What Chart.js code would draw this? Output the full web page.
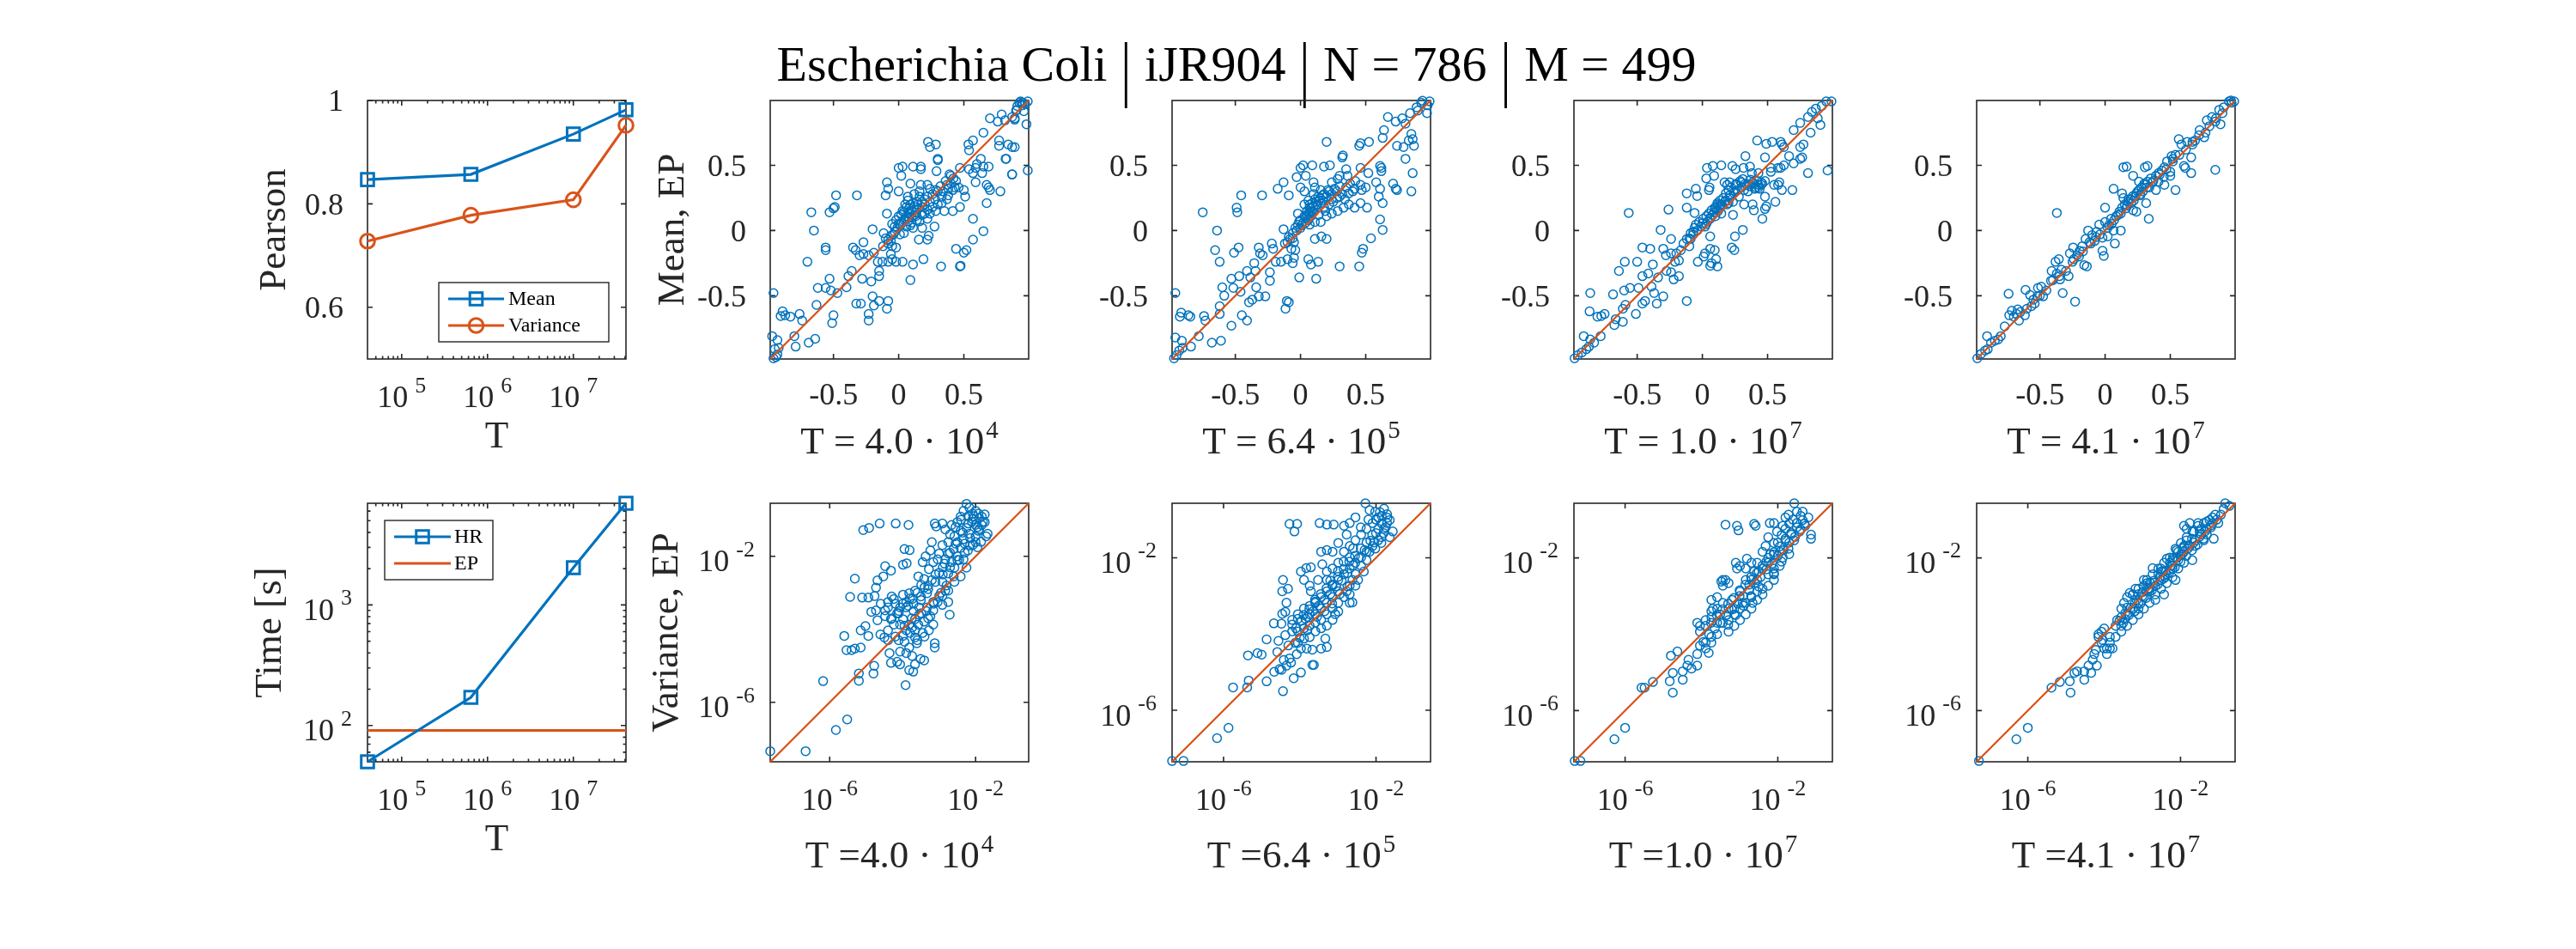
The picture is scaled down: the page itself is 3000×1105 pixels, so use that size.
<!DOCTYPE html>
<html>
<head>
<meta charset="utf-8">
<script src="https://cdn.jsdelivr.net/npm/chart.js@4.4.1/dist/chart.umd.min.js"></script>
<style>
html,body{margin:0;padding:0;background:#fff;}
#fig{position:relative;width:3000px;height:1105px;background:#fff;overflow:hidden;}
#fig canvas{position:absolute;}
#title{position:absolute;left:0;top:46px;width:2880px;text-align:center;font-family:'Liberation Serif','Times New Roman',serif;font-size:58px;line-height:58px;white-space:nowrap;color:#000;}
#title .bar{display:inline-block;margin:0 16px;transform:scaleY(1.45) translateY(4px);}
</style>
</head>
<body>
<div id="fig">
<div id="title"><span>Escherichia Coli</span><span class="bar">|</span><span>iJR904</span><span class="bar">|</span><span>N = 786</span><span class="bar">|</span><span>M = 499</span></div>
</div>
<script>
// ---------------- DATA ----------------
const tValues = [4.0e4, 6.4e5, 1.0e7, 4.1e7];
const pearsonMean = [0.847, 0.857, 0.935, 0.982];
const pearsonVariance = [0.728, 0.778, 0.808, 0.952];
const timeHR = [50, 171, 2036, 6970];
const timeEP = [91, 91, 91, 91];

const tTickValues = [1e5, 1e6, 1e7];
const tTickExponents = ['5', '6', '7'];
const pearsonTickValues = [0.6, 0.8, 1];
const pearsonTickLabels = ['0.6', '0.8', '1'];
const timeTickValues = [1e2, 1e3];
const timeTickExponents = ['2', '3'];
const meanTickValues = [-0.5, 0, 0.5];
const meanTickLabels = ['-0.5', '0', '0.5'];
const varTickValues = [1e-6, 1e-2];
const varTickExponents = ['-6', '-2'];
const runMantissas = ['4.0', '6.4', '1.0', '4.1'];
const runExponents = ['4', '5', '7', '7'];

// axis limits of the scatter panels
const meanLimits = [[-0.985, 0.997], [-0.985, 0.997], [-0.985, 0.997], [-0.985, 0.997]];
const varLimitsLog10 = [[-7.63, -0.545], [-7.35, -0.57], [-7.34, -0.57], [-7.34, -0.57]];

// Mean: [HR, EP] pairs, one list per T
const meanS1 = [
[-0.96,-0.98],[-0.94,-0.97],[-0.93,-0.95],[-0.97,-0.81],[-0.93,-0.84],[-0.95,-0.91],[-0.92,-0.90],[-0.96,-0.48],
[-0.89,-0.62],[-0.905,-0.655],[-0.87,-0.65],[-0.83,-0.66],[-0.76,-0.64],[-0.74,-0.69],
[-0.80,-0.81],[-0.79,-0.89],[-0.69,-0.86],[-0.64,-0.83],
[-0.70,-0.24],[-0.67,0.14],[-0.65,0.0],[-0.56,-0.13],[-0.56,-0.15],
[-0.53,0.14],[-0.50,0.17],[-0.49,0.18],[-0.48,0.27],
[-0.62,-0.44],[-0.56,-0.44],[-0.52,-0.46],[-0.53,-0.37],[-0.47,-0.48],[-0.50,-0.65],[-0.51,-0.71],[-0.63,-0.57],
[-0.385,-0.35],[-0.36,-0.31],[-0.40,-0.435],[-0.32,0.27],
[-0.35,-0.13],[-0.33,-0.15],[-0.30,-0.19],[-0.27,-0.18],[-0.23,-0.19],[-0.19,-0.17],[-0.27,-0.09],[-0.20,0.01],
[-0.325,-0.56],[-0.29,-0.56],[-0.20,-0.505],[-0.19,-0.575],[-0.15,-0.54],[-0.09,-0.60],[-0.08,-0.54],[-0.23,-0.64],[-0.23,-0.69],
[-0.28,-0.37],[-0.21,-0.39],[-0.15,-0.35],[-0.15,-0.31],
[-0.16,-0.24],[-0.125,-0.24],[-0.08,-0.24],[-0.05,-0.22],[-0.02,-0.24],[0.03,-0.24],[-0.06,-0.18],[-0.05,-0.12],[-0.02,-0.13],
[-0.115,-0.02],[-0.08,-0.07],[-0.04,-0.03],
[-0.09,0.13],[-0.10,0.27],[-0.08,0.32],[-0.09,0.37],[0.0,0.30],[0.0,0.48],[0.03,0.49],[0.02,0.42],[0.09,0.36],[0.11,0.49],[0.17,0.49],[0.17,0.47],[0.225,0.68],[0.285,0.66],[0.24,0.64],[0.29,0.455],[0.30,0.55],[0.30,0.54],
[-0.06,-0.04],[-0.03,-0.01],[-0.01,0.02],[0.015,0.045],[0.04,0.08],[0.06,0.11],[0.08,0.13],[0.10,0.15],[0.12,0.18],[0.145,0.20],[0.18,0.22],[0.20,0.24],[0.03,0.15],[0.05,0.20],[0.07,0.23],[0.09,0.20],[0.13,0.11],[0.16,0.07],[0.20,0.13],[0.09,0.04],[0.11,0.02],[0.06,0.03],[0.0,0.11],[0.04,-0.02],
[0.02,0.06],[0.05,0.09],[0.08,0.17],[0.11,0.21],[0.14,0.16],[0.07,0.07],[0.1,0.1],[0.13,0.14],[-0.03,0.03],[0.01,-0.03],
[-0.05,0.05],[-0.02,0.08],[0.0,0.05],[0.02,0.12],[0.04,0.14],[0.06,0.18],[0.08,0.1],[0.1,0.06],[0.12,0.12],[0.14,0.22],[0.16,0.26],[0.18,0.18],[0.2,0.2],[0.22,0.26],[0.24,0.22],[0.26,0.28],[0.28,0.24],[0.3,0.3],[0.32,0.34],[0.34,0.3],[0.36,0.38],[0.38,0.32],[0.4,0.36],[0.42,0.4],[0.44,0.38],[0.3,0.2],[0.26,0.18],[0.22,0.16],[0.18,0.12],[0.14,0.08],[-0.08,-0.1],[-0.1,-0.06],[-0.12,-0.12],[-0.06,-0.08],[0.33,0.21],[0.38,0.27],[0.43,0.33],[0.12,0.28],[0.16,0.3],[0.07,0.26],
[0.17,0.35],[0.22,0.35],[0.24,0.32],[0.285,0.31],[0.33,0.26],[0.37,0.24],[0.40,0.42],[0.39,0.43],[0.37,0.35],[0.415,0.31],[0.46,0.33],[0.50,0.31],[0.51,0.26],[0.47,0.18],[0.415,0.15],[0.35,0.15],[0.285,0.15],[0.24,0.13],[0.22,0.09],[0.275,0.03],[0.18,0.02],[0.155,-0.07],[0.22,-0.07],[0.23,-0.04],
[0.09,-0.38],[0.11,-0.26],[0.19,-0.22],[0.325,-0.275],[0.47,-0.275],[0.475,-0.27],
[0.44,-0.14],[0.50,-0.17],[0.52,-0.15],[0.57,-0.07],[0.65,-0.005],[0.57,0.09],
[0.47,0.48],[0.54,0.47],[0.57,0.44],[0.59,0.48],[0.59,0.37],[0.64,0.44],[0.69,0.49],[0.65,0.49],[0.60,0.51],[0.63,0.55],
[0.54,0.615],[0.535,0.66],[0.57,0.69],[0.65,0.75],[0.70,0.86],[0.76,0.835],[0.815,0.845],[0.79,0.89],[0.77,0.69],[0.77,0.65],[0.84,0.66],[0.87,0.64],[0.89,0.64],[0.82,0.55],[0.87,0.43],[0.78,0.30],[0.69,0.33],[0.675,0.21],[0.70,0.31],[0.675,0.35],
[0.90,0.92],[0.91,0.955],[0.925,0.98],[0.89,0.86],[0.87,0.87],[0.935,0.99],[0.98,0.815],[0.99,0.46],[0.95,0.98],[0.96,0.915],[0.905,0.925],[0.89,0.85],[0.95,0.96],[0.87,0.43],[0.825,0.55],[0.99,0.99],[0.97,0.97]
];
const meanS2 = [
[-0.97,-0.98],[-0.95,-0.955],[-0.93,-0.92],[-0.905,-0.90],[-0.96,-0.82],[-0.91,-0.845],[-0.84,-0.89],[-0.96,-0.48],[-0.915,-0.63],[-0.925,-0.66],[-0.86,-0.65],[-0.845,-0.66],[-0.74,-0.655],[-0.73,-0.69],[-0.78,-0.81],[-0.68,-0.86],[-0.61,-0.845],[-0.53,-0.73],[-0.45,-0.65],[-0.41,-0.69],[-0.395,-0.55],[-0.37,-0.53],[-0.32,-0.505],[-0.27,-0.505],
[-0.585,-0.50],[-0.60,-0.435],[-0.62,-0.58],[-0.62,-0.64],[-0.515,-0.44],[-0.46,-0.47],[-0.53,-0.37],[-0.47,-0.35],[-0.41,-0.31],[-0.385,-0.36],[-0.34,-0.435],[-0.345,-0.31],[-0.355,-0.25],
[-0.655,-0.15],[-0.62,-0.24],[-0.64,0.0],[-0.75,0.14],[-0.49,0.175],[-0.485,0.14],[-0.455,0.27],[-0.295,0.27],[-0.51,-0.17],[-0.475,-0.13],[-0.32,-0.13],[-0.31,-0.175],[-0.29,-0.19],[-0.235,-0.32],[-0.235,-0.385],[-0.22,-0.10],[-0.21,-0.14],[-0.19,-0.24],[-0.15,-0.24],[-0.10,-0.22],[-0.06,-0.25],[-0.05,-0.21],
[-0.105,-0.54],[-0.115,-0.60],[-0.09,-0.55],[-0.01,-0.36],[0.12,-0.37],[0.06,-0.22],[0.08,-0.26],[0.135,-0.24],[0.30,-0.275],[0.45,-0.275],[0.48,-0.14],[0.47,-0.17],[0.54,-0.06],[0.61,0.085],[0.63,0.005],[0.11,-0.065],[0.16,-0.045],[0.20,-0.065],
[-0.13,0.01],[-0.175,0.32],[-0.13,0.37],[-0.09,0.27],[-0.03,0.41],[0.0,0.48],[0.02,0.50],[0.04,0.42],[0.09,0.50],[0.0,0.33],[0.03,0.30],[0.10,0.37],[0.18,0.49],[0.225,0.50],[0.20,0.68],[0.32,0.56],[0.325,0.575],[0.30,0.42],[0.35,0.47],[0.36,0.42],[0.285,0.395],[0.24,0.37],[0.21,0.31],[0.155,0.31],[0.11,0.33],
[-0.06,-0.02],[-0.04,0.02],[-0.02,0.045],[0.0,0.08],[0.03,0.11],[0.05,0.15],[0.07,0.175],[0.09,0.21],[0.11,0.24],[0.135,0.26],[0.155,0.21],[0.03,0.20],[0.06,0.23],[-0.02,0.13],[0.08,0.11],[0.11,0.065],[0.07,0.045],[-0.08,-0.065],[-0.05,-0.09],[-0.10,-0.09],[-0.07,-0.14],[-0.04,-0.15],[0.19,0.15],[0.22,0.20],[0.24,0.24],[0.20,0.11],[0.155,0.065],[0.24,0.13],
[0.01,0.04],[0.04,0.06],[0.06,0.13],[0.09,0.15],[0.12,0.19],[0.14,0.23],[0.17,0.27],[0.1,0.28],[0.07,0.2],[-0.01,0.07],
[-0.12,-0.1],[-0.09,-0.05],[-0.06,-0.06],[-0.03,0.0],[0.0,0.02],[0.02,0.06],[0.04,0.1],[0.05,0.12],[0.07,0.13],[0.08,0.17],[0.1,0.19],[0.12,0.22],[0.13,0.2],[0.15,0.25],[0.17,0.23],[0.18,0.28],[0.2,0.26],[0.22,0.3],[0.24,0.28],[0.26,0.32],[0.28,0.3],[0.3,0.34],[0.32,0.28],[0.35,0.33],[0.38,0.36],[0.4,0.3],[0.42,0.38],[0.25,0.22],[0.28,0.25],[0.3,0.26],[0.34,0.24],[0.14,0.12],[0.18,0.18],[0.1,0.14],[0.06,0.08],
[0.285,0.15],[0.33,0.175],[0.37,0.20],[0.415,0.175],[0.46,0.21],[0.51,0.175],[0.37,0.285],[0.415,0.32],[0.47,0.31],[0.46,0.35],[0.50,0.33],[0.58,0.37],[0.61,0.32],[0.60,0.26],[0.63,0.21],[0.71,0.36],[0.73,0.32],[0.74,0.31],[0.85,0.30],[0.86,0.44],[0.805,0.55],[0.61,0.495],[0.62,0.455],[0.62,0.48],[0.52,0.44],[0.46,0.48],[0.525,0.68],[0.46,0.67],[0.45,0.65],[0.64,0.77],[0.63,0.71],[0.67,0.87],[0.73,0.835],[0.78,0.86],[0.805,0.82],[0.84,0.90],[0.85,0.74],[0.86,0.70],[0.83,0.69],[0.79,0.64],[0.87,0.65],[0.74,0.65],[0.90,0.92],[0.925,0.98],[0.89,0.945],[0.935,0.995],[0.97,0.90],[0.975,0.96],[0.99,0.99]
];
const meanS3 = [
[-0.98,-0.98],[-0.955,-0.955],[-0.925,-0.935],[-0.89,-0.91],[-0.87,-0.89],[-0.91,-0.81],[-0.86,-0.835],[-0.83,-0.86],[-0.78,-0.81],[-0.86,-0.48],[-0.865,-0.62],[-0.805,-0.66],[-0.775,-0.655],[-0.75,-0.64],[-0.685,-0.49],[-0.665,-0.68],[-0.675,-0.725],[-0.61,-0.70],[-0.61,-0.60],[-0.59,-0.57],[-0.60,-0.46],[-0.555,-0.44],[-0.51,-0.64],[-0.49,-0.44],[-0.46,-0.56],[-0.44,-0.54],[-0.37,-0.48],[-0.35,-0.56],[-0.30,-0.505],[-0.39,-0.43],[-0.34,-0.36],[-0.46,-0.35],[-0.415,-0.33],[-0.38,-0.26],
[-0.64,-0.31],[-0.595,-0.24],[-0.50,-0.24],[-0.46,-0.13],[-0.40,-0.14],[-0.30,-0.14],[-0.28,-0.19],[-0.24,-0.175],[-0.275,-0.31],[-0.24,-0.32],[-0.22,-0.375],[-0.18,-0.35],[-0.21,-0.24],[-0.18,-0.23],[-0.12,-0.54],[-0.32,0.005],[-0.24,-0.065],[-0.565,0.135],[-0.26,0.16],[-0.12,0.175],[-0.06,0.135],[-0.12,0.285],[-0.05,0.32],[-0.04,0.265],[0.05,0.31],[0.055,0.33],[0.03,0.40],[0.035,0.48],[0.08,0.495],[0.145,0.50],[0.09,0.42],[0.23,0.495],[0.255,0.47],[0.315,0.48],[0.33,0.57],[0.365,0.49],[0.42,0.69],[0.48,0.56],[0.49,0.665],[0.535,0.68],[0.60,0.68],[0.61,0.66],[0.60,0.48],[0.625,0.50],[0.59,0.37],[0.61,0.31],[0.69,0.31],[0.56,0.22],[0.48,0.165],[0.46,0.09],[0.395,0.155],[0.385,0.20],[0.32,0.20],[0.235,0.12],[0.31,0.005],[0.25,-0.045],[0.225,-0.13],[0.245,-0.15],
[0.06,-0.14],[0.095,-0.15],[0.105,-0.22],[0.07,-0.25],[0.06,-0.27],[0.115,-0.275],[0.02,-0.175],[-0.035,-0.24],[0.01,-0.20],[0.06,-0.045],[-0.06,0.02],[-0.09,-0.02],[-0.12,-0.065],[-0.145,-0.10],[-0.10,-0.12],[-0.165,-0.15],[-0.20,-0.175],
[-0.025,0.065],[0.005,0.09],[0.03,0.11],[0.05,0.13],[0.07,0.155],[0.095,0.175],[0.115,0.21],[0.135,0.23],[0.16,0.25],[0.18,0.285],[0.20,0.31],[0.22,0.33],[0.19,0.35],[0.17,0.37],[0.21,0.37],[0.255,0.35],[0.30,0.37],[0.34,0.35],[0.385,0.37],[0.43,0.35],[0.45,0.37],[0.41,0.33],[0.32,0.31],[0.28,0.26],[0.145,0.13],[0.10,0.11],[0.135,0.175],[0.19,0.20],[0.235,0.22],[-0.05,0.045],[-0.09,-0.065],[-0.07,-0.01],[0.0,0.055],
[0.02,0.03],[0.04,0.07],[0.08,0.12],[0.11,0.16],[0.15,0.2],[0.17,0.22],[0.21,0.27],[0.25,0.3],[0.12,0.2],[0.06,0.09],
[-0.1,-0.06],[-0.07,-0.03],[-0.04,0.0],[-0.01,0.03],[0.03,0.05],[0.06,0.1],[0.09,0.14],[0.12,0.15],[0.15,0.19],[0.18,0.23],[0.21,0.25],[0.24,0.29],[0.27,0.31],[0.3,0.33],[0.33,0.36],[0.36,0.34],[0.39,0.36],[0.42,0.38],[0.45,0.35],[0.48,0.38],[0.35,0.3],[0.4,0.32],[0.26,0.36],[0.29,0.38],[0.37,0.39],[0.44,0.32],[0.14,0.2],[0.1,0.17],[0.2,0.21],
[0.665,0.57],[0.70,0.515],[0.75,0.55],[0.765,0.56],[0.81,0.44],[0.70,0.77],[0.75,0.825],[0.775,0.66],[0.75,0.64],[0.83,0.75],[0.81,0.87],[0.84,0.91],[0.885,0.86],[0.905,0.81],[0.87,0.935],[0.915,0.955],[0.95,0.99],[0.96,0.46],[0.625,0.64],[0.43,0.33],[0.55,0.35],[0.58,0.35],[0.48,0.26],[0.49,0.185],[0.31,0.395],[0.38,0.44],[0.43,0.44],[0.46,0.36],[0.525,0.45],[0.58,0.48],[0.525,0.48],[0.99,0.99]
];
const meanS4 = [
[-0.98,-0.98],[-0.95,-0.945],[-0.92,-0.92],[-0.90,-0.91],[-0.905,-0.81],[-0.875,-0.86],[-0.845,-0.845],[-0.82,-0.835],[-0.80,-0.81],[-0.77,-0.735],[-0.74,-0.485],[-0.735,-0.65],[-0.715,-0.615],[-0.70,-0.66],[-0.68,-0.64],[-0.67,-0.605],[-0.65,-0.625],[-0.66,-0.69],[-0.615,-0.65],[-0.61,-0.455],[-0.575,-0.495],[-0.565,-0.58],[-0.54,-0.56],[-0.52,-0.505],[-0.515,-0.44],[-0.49,-0.43],[-0.475,-0.505],[-0.415,-0.385],[-0.41,-0.31],[-0.38,-0.24],[-0.355,-0.22],[-0.37,-0.33],[-0.345,-0.375],[-0.325,-0.48],[-0.335,-0.30],[-0.28,-0.35],[-0.23,-0.545],[-0.37,0.135],
[-0.27,-0.175],[-0.245,-0.13],[-0.24,-0.22],[-0.215,-0.19],[-0.195,-0.155],[-0.175,-0.12],[-0.16,-0.265],[-0.14,-0.275],[-0.15,-0.065],[-0.13,0.0],[-0.12,-0.09],[-0.10,-0.035],[-0.065,-0.01],[-0.02,-0.155],[-0.01,-0.195],[-0.02,-0.055],[0.02,-0.045],[0.065,0.0],[0.075,-0.10],[0.12,0.0],[0.0,0.175],
[-0.045,0.045],[0.0,0.065],[0.045,0.09],[0.085,0.11],[0.11,0.145],[0.13,0.175],[0.15,0.20],[0.175,0.22],[0.195,0.24],[0.215,0.265],[0.24,0.285],[0.26,0.31],[0.28,0.33],[0.305,0.35],[0.325,0.375],[0.065,0.32],[0.13,0.285],[0.14,0.25],[0.215,0.155],[0.24,0.145],[0.315,0.21],[0.335,0.09],[0.215,0.42],[0.305,0.485],[0.325,0.495],[0.14,0.485],[0.165,0.49],[0.26,0.375],
[-0.08,-0.08],[-0.04,-0.03],[0.02,0.02],[0.05,0.05],[0.1,0.12],[0.16,0.17],[0.2,0.21],[0.23,0.26],[0.27,0.28],[0.29,0.3],[0.34,0.33],[0.36,0.37],
[-0.6,-0.6],[-0.55,-0.53],[-0.5,-0.5],[-0.45,-0.46],[-0.4,-0.38],[-0.35,-0.35],[-0.3,-0.31],[-0.25,-0.24],[-0.2,-0.2],[-0.17,-0.16],[-0.11,-0.1],[-0.07,-0.05],[0.03,0.04],[0.07,0.08],[0.12,0.13],[0.17,0.19],[0.22,0.23],[0.27,0.27],[0.32,0.33],[0.37,0.38],[0.42,0.43],[0.47,0.47],[0.52,0.53],[0.57,0.58],[0.62,0.62],[0.67,0.66],[0.72,0.73],[0.8,0.8],[0.85,0.86],[0.9,0.9],[0.3,0.36],[0.35,0.4],[0.25,0.3],[0.18,0.24],[0.45,0.41],[0.5,0.45],
[0.39,0.42],[0.41,0.44],[0.435,0.46],[0.455,0.485],[0.41,0.375],[0.455,0.35],[0.39,0.31],[0.50,0.42],[0.54,0.31],[0.475,0.53],[0.52,0.55],[0.54,0.58],[0.605,0.495],[0.615,0.48],[0.66,0.44],[0.66,0.56],[0.585,0.66],[0.63,0.68],[0.67,0.68],[0.69,0.69],[0.725,0.77],[0.76,0.715],[0.77,0.75],[0.78,0.845],[0.82,0.87],[0.845,0.835],[0.885,0.815],[0.875,0.925],[0.91,0.945],[0.95,0.99],[0.965,0.997],[0.845,0.465],[0.565,0.70],[0.51,0.57],[0.99,0.99],[0.97,0.98]
];

// Variance: [log10 HR, log10 EP] pairs, one list per T
const varS1Log10 = [
[-7.63,-7.34],[-6.66,-7.34],[-5.83,-6.76],[-5.52,-6.47],[-6.18,-5.42],[-5.20,-5.21],[-5.20,-5.41],[-4.80,-5.21],[-4.78,-5.0],
[-5.60,-4.18],[-5.54,-4.57],[-5.40,-4.57],[-5.31,-4.53],[-5.15,-4.50],[-5.15,-4.03],[-5.02,-3.91],[-4.94,-4.18],[-4.69,-3.75],[-4.50,-4.22],[-4.36,-4.65],[-4.32,-4.92],[-4.15,-4.89],[-3.92,-5.53],[-3.82,-5.12],[-3.71,-5.16],[-3.51,-4.81],[-3.41,-4.85],[-4.11,-4.30],[-3.95,-4.34],[-3.82,-4.50],[-3.61,-4.38],[-3.12,-4.38],[-3.12,-4.50],[-3.66,-4.22],
[-5.44,-3.11],[-5.31,-2.61],[-5.11,-3.13],[-4.94,-3.13],[-4.77,-3.09],[-4.69,-2.66],[-4.73,-2.86],[-4.53,-2.55],[-4.48,-2.27],[-4.32,-2.39],
[-5.08,-1.28],[-4.92,-1.22],[-4.63,-1.10],[-4.19,-1.10],[-3.84,-1.14],[-3.95,-1.80],[-3.81,-1.83],[-3.99,-2.23],[-3.89,-2.19],
[-4.86,-3.52],[-4.73,-3.48],[-4.48,-3.64],[-4.48,-3.48],[-4.40,-3.25],[-4.24,-3.17],[-4.07,-3.40],[-3.90,-3.25],[-3.74,-3.17],[-3.66,-2.94],[-3.49,-2.78],[-3.57,-2.55],[-3.41,-2.62],[-3.28,-2.35],[-3.16,-2.16],[-3.04,-2.08],[-3.24,-1.84],[-3.20,-1.61],[-3.12,-1.10],[-3.08,-1.18],[-2.91,-1.10],[-2.83,-1.26],[-2.66,-1.14],[-2.50,-1.06],[-2.33,-0.75],[-2.25,-0.56],[-2.17,-0.67],[-2.08,-0.83],[-2.0,-0.75],[-1.92,-0.83],[-1.83,-0.91],[-1.75,-1.06],[-1.67,-1.38],[-1.71,-1.45],[-2.0,-1.61],[-2.17,-1.38],[-2.33,-1.53],[-2.41,-1.77],[-2.50,-2.0],[-2.66,-2.16],[-2.58,-2.31],[-2.75,-2.47],[-2.91,-2.70],[-2.83,-2.94],[-3.0,-3.09],[-2.75,-3.25],[-2.71,-3.60],[-2.91,-3.33],[-3.16,-3.25],[-3.33,-3.40],[-3.49,-3.56],[-3.66,-3.72],[-3.82,-3.87],[-3.99,-3.72],[-4.15,-3.56],[-4.32,-3.72],[-4.07,-3.87],[-3.90,-4.03],[-3.74,-3.95],[-3.57,-3.87],[-3.41,-3.79],[-3.24,-3.64],[-3.16,-3.48],[-3.04,-3.25],[-2.91,-3.09],[-2.75,-2.94],[-2.58,-2.70],[-2.41,-2.55],[-2.25,-2.31],[-2.33,-2.08],[-2.21,-1.84],[-2.08,-1.69],[-1.92,-1.30],[-2.25,-1.22],[-2.41,-1.30],[-2.58,-1.45],[-2.75,-1.61],[-2.91,-1.69],[-3.0,-1.92],[-2.83,-2.08],[-2.75,-1.92],[-2.50,-1.61],[-2.08,-0.98],[-2.41,-0.91],[-2.0,-1.14],[-1.83,-1.14],[-3.45,-2.16],[-3.37,-2.0],[-3.33,-3.01],[-3.82,-3.01],[-3.99,-3.05],[-4.11,-3.56],[-4.24,-3.87],[-4.40,-4.03],[-3.66,-4.03],[-3.45,-4.10],[-3.28,-4.03],[-3.16,-3.87],[-4.07,-4.61],[-3.90,-4.65],[-3.74,-4.73],[-4.07,-4.96],[-3.66,-4.96],[-4.61,-4.14],[-3.99,-4.18],
[-1.9,-0.95],[-2.1,-1.05],[-2.2,-0.9],[-1.95,-1.2],[-2.15,-1.5],[-2.3,-1.65],[-2.6,-1.8],[-2.45,-2.1],[-2.9,-2.3],[-3.1,-2.5],[-3.3,-2.8],[-3.5,-3.2],[-3.7,-3.5],[-3.3,-3.7],[-3.55,-3.4],[-3.85,-3.35],
[-4.3,-3.7],[-4.1,-3.5],[-3.9,-3.4],[-3.7,-3.3],[-3.5,-3.1],[-3.3,-2.9],[-3.1,-2.7],[-2.9,-2.5],[-2.7,-2.3],[-2.5,-2.1],[-2.3,-1.9],[-2.15,-1.7],[-2.0,-1.45],[-1.9,-1.25],[-1.8,-1.05],[-1.75,-0.85],[-2.05,-0.9],[-2.2,-1.1],[-2.35,-1.35],[-2.55,-1.65],[-2.7,-1.9],[-2.85,-2.2],[-3.0,-2.45],[-3.2,-2.65],[-3.4,-2.85],[-3.6,-3.0],[-3.8,-3.15],[-4.0,-3.3],[-4.2,-3.3],[-4.4,-3.4],[-4.6,-3.3],[-4.3,-3.1],[-3.95,-3.9],[-3.75,-3.7],[-3.55,-3.6],[-3.35,-3.5],[-3.15,-3.3],[-2.95,-3.0],[-2.8,-2.8],[-2.6,-2.55],[-3.6,-4.3],[-3.4,-4.2],[-3.8,-4.1],[-4.2,-4.2],[-4.4,-4.3],[-2.4,-1.0],[-2.55,-1.2],[-2.7,-1.4],[-1.85,-1.6],[-1.95,-1.75]
];
const varS2Log10 = [
[-7.35,-7.33],[-7.05,-7.33],[-6.17,-6.73],[-5.87,-6.46],[-5.75,-5.40],[-5.38,-5.40],[-5.34,-5.22],[-5.36,-4.56],[-5.11,-4.50],[-5.00,-4.54],[-4.87,-5.24],[-4.87,-4.14],[-4.59,-4.47],[-4.67,-4.99],[-4.53,-4.92],[-4.44,-5.50],[-4.48,-4.94],[-4.35,-4.83],[-4.23,-4.75],[-4.16,-5.16],[-3.97,-5.01],[-4.42,-4.68],[-4.27,-4.64],[-4.08,-4.53],[-4.05,-4.23],[-3.97,-4.38],[-3.82,-4.38],[-3.67,-4.41],[-3.63,-4.81],[-3.44,-4.38],[-3.29,-4.34],[-3.33,-4.12],
[-4.68,-3.72],[-4.48,-3.73],[-4.56,-4.18],[-4.38,-4.03],[-4.46,-3.47],[-4.38,-3.42],[-4.35,-3.18],[-4.46,-2.88],[-4.44,-2.58],[-4.31,-2.81],[-4.27,-1.11],[-4.14,-1.31],[-4.07,-1.11],[-3.48,-1.09],[-3.29,-1.13],[-3.11,-1.13],[-3.97,-2.36],[-3.83,-2.27],[-3.71,-2.25],[-3.89,-2.58],[-3.74,-2.73],[-3.71,-2.88],[-3.52,-2.58],[-3.44,-1.84],[-3.29,-1.80],[-3.14,-1.84],[-3.41,-2.17],[-3.29,-2.36],[-2.99,-1.61],[-2.77,-1.39],[-2.84,-1.16],[-2.69,-1.09],[-2.54,-0.94],[-2.28,-0.57],[-2.17,-0.75],[-2.02,-0.79],[-1.94,-0.94],[-1.79,-0.71],[-1.71,-0.86],[-1.64,-1.01],[-1.56,-1.31],[-1.64,-1.46],[-1.86,-1.46],[-1.86,-1.61],[-2.02,-1.76],[-2.17,-1.84],[-2.25,-2.06],[-2.39,-2.21],[-2.54,-2.43],[-2.62,-2.58],[-2.69,-2.73],[-2.77,-2.88],[-2.84,-3.03],[-2.69,-3.18],[-2.62,-3.17],[-2.99,-3.18],[-3.14,-3.33],[-3.29,-3.48],[-3.44,-3.63],[-3.59,-3.70],[-3.74,-3.78],[-3.89,-3.85],[-4.05,-3.93],[-4.20,-3.93],[-4.20,-3.63],[-4.05,-3.48],[-3.89,-3.33],[-3.74,-3.26],[-3.59,-3.18],[-3.44,-3.03],[-3.29,-2.88],[-3.14,-2.73],[-2.99,-2.58],[-2.84,-2.43],[-2.69,-2.28],[-2.54,-2.13],[-2.39,-1.99],[-2.25,-1.84],[-2.09,-1.69],[-1.94,-1.54],[-1.79,-1.24],[-1.71,-1.09],[-2.84,-1.84],[-2.69,-1.69],[-2.54,-1.54],[-2.39,-1.39],[-2.25,-1.24],[-2.09,-1.09],[-1.94,-1.24],[-2.69,-1.99],[-2.99,-2.13],[-3.14,-2.28],[-3.29,-2.58],[-3.74,-3.48],[-3.59,-3.48],[-3.44,-3.33],[-3.29,-3.18],[-3.14,-3.03],[-2.99,-2.88],[-3.07,-3.48],[-3.14,-3.63],[-3.29,-3.78],[-3.44,-3.85],[-3.59,-3.93],[-3.74,-4.08],[-3.89,-4.12],[-2.99,-3.41],[-2.69,-2.96],[-2.54,-2.73],[-2.47,-2.58],[-2.32,-2.36],[-3.67,-4.81],[-4.12,-4.23],
[-2.0,-1.0],[-1.85,-0.9],[-2.2,-1.0],[-2.4,-1.2],[-1.75,-1.2],[-2.6,-1.75],[-2.85,-2.1],[-3.0,-2.35],[-3.2,-2.6],[-3.6,-3.1],[-3.85,-3.6],
[-4.1,-3.85],[-3.95,-3.65],[-3.8,-3.55],[-3.65,-3.4],[-3.5,-3.25],[-3.35,-3.1],[-3.2,-2.95],[-3.05,-2.75],[-2.9,-2.6],[-2.75,-2.4],[-2.6,-2.2],[-2.45,-2.0],[-2.3,-1.8],[-2.15,-1.55],[-2.0,-1.35],[-1.85,-1.1],[-1.7,-0.95],[-1.9,-0.8],[-2.1,-1.4],[-2.25,-1.6],[-2.4,-1.75],[-2.55,-1.95],[-2.7,-2.1],[-2.85,-2.3],[-3.0,-2.5],[-3.15,-2.7],[-3.3,-2.8],[-3.45,-2.95],[-3.6,-3.15],[-3.75,-3.35],[-3.9,-3.5],[-4.05,-3.6],[-4.2,-3.75],[-3.55,-3.55],[-3.35,-3.4],[-3.15,-3.2],[-2.95,-2.95],[-2.75,-2.75],[-3.8,-3.9],[-4.0,-4.1],[-4.3,-4.3],[-1.8,-1.35],[-2.05,-1.6]
];
const varS3Log10 = [
[-7.32,-7.32],[-7.17,-7.32],[-6.28,-6.75],[-6.0,-6.45],[-5.57,-5.40],[-5.49,-5.40],[-5.27,-5.25],[-4.83,-5.23],[-4.75,-5.53],[-4.80,-4.56],[-4.63,-4.45],[-4.75,-5.01],[-4.49,-5.19],[-4.49,-4.97],[-4.37,-4.82],[-4.34,-4.67],[-4.26,-4.90],[-4.11,-4.52],[-4.11,-4.82],[-4.04,-4.30],[-4.04,-3.93],[-4.11,-3.70],[-3.89,-3.78],[-3.89,-4.22],[-3.81,-4.49],[-3.74,-4.07],[-3.70,-3.33],[-3.74,-3.10],[-3.59,-3.03],[-3.51,-3.48],[-3.44,-2.73],[-3.37,-2.58],[-3.44,-3.70],[-3.29,-3.63],[-3.29,-3.93],[-3.14,-3.33],[-3.07,-2.28],[-2.99,-2.21],[-3.10,-2.13],[-2.81,-2.02],[-2.99,-2.88],[-2.92,-3.18],[-2.69,-2.58],[-2.66,-3.18],[-2.62,-2.36],[-2.54,-2.13],[-2.40,-2.96],[-2.40,-1.84],[-2.32,-1.69],[-2.25,-1.46],[-2.25,-2.13],[-2.10,-2.43],[-2.10,-1.91],[-2.02,-1.31],[-1.87,-1.16],[-1.80,-0.94],[-1.72,-0.87],[-1.57,-0.57],[-1.50,-0.79],[-1.35,-0.79],[-1.20,-0.94],[-1.13,-1.39],[-1.13,-1.50],[-1.28,-1.16],[-1.43,-1.31],[-1.57,-1.54],[-1.72,-1.76],[-1.87,-1.99],[-1.95,-2.21],[-2.10,-2.58],[-2.25,-2.73],[-2.54,-2.88],[-2.69,-3.03],[-2.84,-3.18],[-2.99,-3.33],[-3.14,-3.48],[-3.29,-3.33],[-3.44,-3.18],[-3.59,-3.33],[-3.74,-3.55],[-3.59,-3.70],[-3.59,-4.0],[-3.74,-4.22],[-3.89,-4.37],[-3.14,-3.78],[-2.99,-3.63],[-2.84,-3.48],[-2.69,-3.33],[-2.54,-3.10],[-2.40,-2.81],[-2.54,-2.58],[-2.84,-2.58],[-2.84,-2.28],[-2.69,-2.13],[-2.40,-2.28],[-2.25,-2.43],[-2.10,-2.28],[-1.95,-1.84],[-1.80,-1.54],[-1.65,-1.39],[-1.50,-1.09],[-1.35,-1.01],[-1.80,-1.24],[-2.10,-1.61],[-2.21,-1.09],[-2.10,-1.09],[-3.37,-1.13],[-3.07,-1.16],[-3.03,-1.28],[-2.62,-1.11],[-2.58,-1.16],[-3.44,-2.58],[-3.29,-2.66],[-3.48,-2.62],[-3.74,-3.40],[-3.89,-3.63],[-4.04,-3.78],
[-1.6,-1.0],[-1.4,-0.9],[-1.9,-1.4],[-2.2,-1.9],[-2.5,-2.35],[-2.75,-2.7],[-3.0,-3.0],[-3.2,-3.1],[-3.35,-3.5],[-1.7,-1.1],[-2.0,-1.6],[-2.3,-2.1],
[-3.95,-4.2],[-3.8,-4.0],[-3.65,-3.85],[-3.5,-3.7],[-3.35,-3.5],[-3.2,-3.35],[-3.05,-3.2],[-2.9,-3.0],[-2.75,-2.85],[-2.6,-2.65],[-2.45,-2.5],[-2.3,-2.3],[-2.15,-2.15],[-2.0,-1.95],[-1.85,-1.8],[-1.7,-1.6],[-1.55,-1.45],[-1.4,-1.25],[-1.3,-1.1],[-1.5,-1.2],[-1.65,-1.35],[-1.8,-1.5],[-1.95,-1.7],[-2.1,-1.85],[-2.25,-2.0],[-2.4,-2.2],[-2.55,-2.4],[-2.7,-2.5],[-2.85,-2.7],[-3.0,-2.85],[-3.15,-3.05],[-3.3,-3.2],[-3.45,-3.35],[-3.6,-3.5],[-3.75,-3.7],[-2.5,-2.75],[-2.7,-3.0],[-2.9,-3.25],[-3.1,-3.5],[-3.3,-3.75],[-1.7,-1.9],[-1.9,-2.1],[-2.1,-2.4]
];
const varS4Log10 = [
[-7.28,-7.32],[-6.30,-6.75],[-6.0,-6.45],[-5.38,-5.40],[-5.16,-5.25],[-4.90,-5.23],[-4.88,-5.53],[-4.78,-5.01],[-4.71,-4.97],[-4.52,-5.19],[-4.52,-4.97],[-4.41,-4.82],[-4.34,-5.01],[-4.30,-4.67],[-4.26,-4.52],[-4.19,-4.82],[-4.22,-4.41],[-4.15,-4.0],[-4.07,-3.93],[-4.0,-3.85],[-3.93,-4.52],[-3.85,-4.22],[-3.78,-4.37],[-3.85,-4.07],[-3.70,-3.78],[-3.66,-3.63],[-3.55,-3.55],[-3.55,-3.33],[-3.48,-3.18],[-3.40,-3.03],[-3.33,-2.92],[-3.25,-2.96],[-3.18,-2.81],[-3.10,-3.33],[-2.96,-2.58],[-2.88,-2.66],[-2.81,-2.81],[-2.73,-2.27],[-2.66,-2.96],[-2.58,-2.43],[-2.51,-2.28],[-2.43,-2.96],[-2.40,-2.51],[-2.36,-2.02],[-2.28,-2.13],[-2.21,-2.28],[-2.13,-2.58],[-2.10,-1.80],[-2.06,-1.84],[-1.99,-1.91],[-1.91,-1.69],[-1.84,-1.54],[-1.91,-1.16],[-1.84,-1.24],[-1.76,-1.09],[-1.69,-2.06],[-1.65,-1.31],[-1.54,-1.09],[-1.46,-1.24],[-1.39,-1.54],[-1.31,-1.05],[-1.16,-0.94],[-1.13,-1.50],[-1.01,-1.09],[-0.94,-0.87],[-0.83,-0.57],[-0.87,-0.72],[-0.72,-0.64],
[-4.07,-4.22],[-4.0,-4.37],[-3.55,-3.78],[-3.40,-3.48],[-3.25,-3.33],[-3.10,-3.18],[-2.96,-3.03],[-2.81,-2.88],[-2.66,-2.73],[-2.51,-2.58],[-2.36,-2.43],[-2.21,-2.21],[-2.06,-2.06],[-1.91,-1.84],[-1.76,-1.69],[-1.61,-1.54],[-1.46,-1.39],[-1.31,-1.24],[-1.16,-1.09],[-1.31,-1.39],[-1.61,-1.69],[-1.91,-2.13],[-2.06,-2.28],[-2.21,-2.51],[-2.36,-2.66],[-2.51,-2.81],[-2.66,-3.10],[-2.81,-3.18],[-2.96,-3.33],[-3.10,-3.48],[-3.25,-3.63],[-3.40,-3.78],[-3.55,-3.93],[-3.70,-4.07],[-3.85,-4.37],[-3.25,-2.96],[-3.10,-2.81],[-2.96,-2.73],[-2.88,-2.58],[-2.73,-2.43],[-2.58,-2.28],[-2.43,-2.13],[-2.28,-1.99],[-2.13,-1.76],[-1.99,-1.61],[-1.84,-1.46],[-1.69,-1.31],[-1.54,-1.16],[-1.39,-1.09],[-1.24,-1.01],[-1.09,-0.87],[-4.15,-4.07],[-4.04,-4.15],[-3.93,-4.37],
[-3.0,-2.9],[-2.7,-2.6],[-2.45,-2.35],[-2.2,-2.0],[-1.95,-1.75],[-1.7,-1.5],[-1.5,-1.3],[-1.2,-1.15],[-3.45,-3.6],[-3.2,-3.2],
[-3.6,-3.65],[-3.45,-3.45],[-3.3,-3.3],[-3.15,-3.1],[-3.0,-3.0],[-2.85,-2.8],[-2.7,-2.65],[-2.55,-2.5],[-2.4,-2.35],[-2.25,-2.2],[-2.1,-2.0],[-1.95,-1.9],[-1.8,-1.75],[-1.65,-1.6],[-1.5,-1.45],[-1.35,-1.3],[-1.2,-1.2],[-1.05,-1.0],[-3.5,-3.7],[-3.35,-3.5],[-3.2,-3.4],[-3.05,-3.2],[-2.9,-3.05],[-2.75,-2.85],[-2.6,-2.7],[-2.45,-2.55],[-2.3,-2.4],[-2.15,-2.25],[-2.0,-2.1],[-1.85,-1.95],[-1.7,-1.8],[-1.55,-1.65],[-1.4,-1.5],[-3.4,-3.3],[-3.1,-2.95],[-2.8,-2.65],[-2.5,-2.35],[-2.2,-2.05],[-1.9,-1.7]
];
const meanData = [meanS1, meanS2, meanS3, meanS4];
const varDataLog10 = [varS1Log10, varS2Log10, varS3Log10, varS4Log10];

// ---------------- LAYOUT & STYLE ----------------
const FONT = "'Liberation Serif','Times New Roman',serif";
const BLUE = '#0072BD', ORANGE = '#D95319', INK = '#262626';
const BOX = 301;
const COL_LEFT = [428, 897, 1365, 1833, 2302];
const ROW_TOP = [117, 586];
const PAD = {left: 170, top: 24, right: 24, bottom: 140};
const fig = document.getElementById('fig');
const SPECS = {};

function logMinor(lo, hi) {
  const out = [];
  for (let e = Math.floor(Math.log10(lo)); e <= Math.ceil(Math.log10(hi)); e++) {
    for (let m = 2; m <= 9; m++) {
      const v = m * Math.pow(10, e);
      if (v > lo * 1.0001 && v < hi * 0.9999) out.push(v);
    }
  }
  return out;
}

function drawPow(ctx, cx, cy, base, exp, mode) {
  ctx.font = '36px ' + FONT; const wb = ctx.measureText(base).width;
  ctx.font = '26px ' + FONT; const we = ctx.measureText(exp).width;
  const gap = 8;
  const total = wb + gap + we;
  const x0 = mode === 'center' ? cx - total / 2 : cx - total;
  ctx.textAlign = 'left'; ctx.textBaseline = 'middle';
  ctx.font = '36px ' + FONT; ctx.fillText(base, x0, cy);
  ctx.font = '26px ' + FONT; ctx.fillText(exp, x0 + wb + gap, cy - 15);
}

function drawMarker(ctx, style, x, y, color) {
  ctx.save(); ctx.strokeStyle = color; ctx.lineWidth = 3;
  if (style === 'rect') { ctx.strokeRect(x - 7.3, y - 7.3, 14.6, 14.6); }
  else if (style === 'circle') { ctx.beginPath(); ctx.arc(x, y, 8.3, 0, Math.PI * 2); ctx.stroke(); }
  ctx.restore();
}

const mAxes = {
  id: 'mAxes',
  beforeDatasetsDraw(chart, args, opts) {
    const s = SPECS[opts.key]; if (!s) return;
    const ctx = chart.ctx, a = chart.chartArea, X = chart.scales.x, Y = chart.scales.y;
    ctx.save();
    ctx.strokeStyle = INK; ctx.lineWidth = 1.6;
    ctx.beginPath();
    const xt = (list, len) => { for (const v of list) { const p = X.getPixelForValue(v); ctx.moveTo(p, a.bottom); ctx.lineTo(p, a.bottom - len); ctx.moveTo(p, a.top); ctx.lineTo(p, a.top + len); } };
    const yt = (list, len) => { for (const v of list) { const p = Y.getPixelForValue(v); ctx.moveTo(a.left, p); ctx.lineTo(a.left + len, p); ctx.moveTo(a.right, p); ctx.lineTo(a.right - len, p); } };
    xt(s.xTicks, 6); xt(s.xMinor || [], 3.5);
    yt(s.yTicks, 6); yt(s.yMinor || [], 3.5);
    ctx.stroke();
    ctx.strokeRect(a.left, a.top, a.right - a.left, a.bottom - a.top);
    ctx.restore();
  },
  afterDraw(chart, args, opts) {
    const s = SPECS[opts.key]; if (!s) return;
    const ctx = chart.ctx, a = chart.chartArea, X = chart.scales.x, Y = chart.scales.y;
    ctx.save();
    ctx.fillStyle = INK;
    for (const L of s.xLabels) {
      const p = X.getPixelForValue(L.v);
      if (L.e !== undefined) drawPow(ctx, p, a.bottom + 47, '10', L.e, 'center');
      else { ctx.font = '36px ' + FONT; ctx.textAlign = 'center'; ctx.textBaseline = 'middle'; ctx.fillText(L.t, p, a.bottom + 44); }
    }
    for (const L of s.yLabels) {
      const p = Y.getPixelForValue(L.v);
      if (L.e !== undefined) drawPow(ctx, a.left - 18, p + 8, '10', L.e, 'right');
      else { ctx.font = '36px ' + FONT; ctx.textAlign = 'right'; ctx.textBaseline = 'middle'; ctx.fillText(L.t, a.left - 28, p + 3); }
    }
    if (s.yTitle) {
      ctx.save();
      ctx.translate(a.left - s.yTitleOff, (a.top + a.bottom) / 2);
      ctx.rotate(-Math.PI / 2);
      ctx.font = '45px ' + FONT; ctx.textAlign = 'center'; ctx.textBaseline = 'middle';
      ctx.fillText(s.yTitle, 0, 0);
      ctx.restore();
    }
    if (s.xTitle) {
      const cx = (a.left + a.right) / 2;
      if (s.xTitle.sup !== undefined) {
        ctx.font = '45px ' + FONT; const wm = ctx.measureText(s.xTitle.text).width;
        ctx.font = '29px ' + FONT; const ws = ctx.measureText(s.xTitle.sup).width;
        const x0 = cx - (wm + 2 + ws) / 2;
        ctx.textAlign = 'left'; ctx.textBaseline = 'alphabetic';
        ctx.font = '45px ' + FONT; ctx.fillText(s.xTitle.text, x0, a.bottom + s.xTitle.base);
        ctx.font = '29px ' + FONT; ctx.fillText(s.xTitle.sup, x0 + wm + 2, a.bottom + s.xTitle.base - 18);
      } else {
        ctx.font = '45px ' + FONT; ctx.textAlign = 'center'; ctx.textBaseline = 'middle';
        ctx.fillText(s.xTitle.text, cx, a.bottom + 91);
      }
    }
    if (s.legend) {
      const g = s.legend;
      const lx = a.left + g.x, ly = a.top + g.y;
      ctx.fillStyle = '#fff'; ctx.fillRect(lx, ly, g.w, g.h);
      ctx.strokeStyle = INK; ctx.lineWidth = 1.4; ctx.strokeRect(lx, ly, g.w, g.h);
      g.items.forEach((it, i) => {
        const ry = a.top + g.rows[i];
        ctx.strokeStyle = it.color; ctx.lineWidth = 3.2;
        ctx.beginPath(); ctx.moveTo(a.left + g.line[0], ry); ctx.lineTo(a.left + g.line[1], ry); ctx.stroke();
        if (it.marker) drawMarker(ctx, it.marker, a.left + (g.line[0] + g.line[1]) / 2, ry, it.color);
        ctx.fillStyle = '#000'; ctx.font = '24px ' + FONT; ctx.textAlign = 'left'; ctx.textBaseline = 'middle';
        ctx.fillText(it.label, a.left + g.textX, ry + 1);
      });
    }
    ctx.restore();
  }
};
Chart.register(mAxes);

function makeChart(key, col, row, type, datasets, scales) {
  const cv = document.createElement('canvas');
  cv.width = BOX + PAD.left + PAD.right;
  cv.height = BOX + PAD.top + PAD.bottom;
  cv.style.left = (COL_LEFT[col] - PAD.left) + 'px';
  cv.style.top = (ROW_TOP[row] - PAD.top) + 'px';
  cv.style.width = cv.width + 'px'; cv.style.height = cv.height + 'px';
  fig.appendChild(cv);
  scales.x.display = false; scales.y.display = false;
  return new Chart(cv, {
    type: type,
    data: {datasets: datasets},
    options: {
      responsive: false, animation: false, devicePixelRatio: 1,
      layout: {padding: {left: PAD.left, top: PAD.top, right: PAD.right, bottom: PAD.bottom}},
      scales: scales,
      plugins: {legend: {display: false}, tooltip: {enabled: false}, mAxes: {key: key}},
      events: []
    }
  });
}

const pts = (xs, ys) => xs.map((x, i) => ({x: x, y: ys[i]}));
const tMin = tValues[0], tMax = tValues[tValues.length - 1];
const tXLabels = tTickValues.map((v, i) => ({v: v, e: tTickExponents[i]}));

// Pearson panel
SPECS.pearson = {
  xTicks: tTickValues, xMinor: logMinor(tMin, tMax), xLabels: tXLabels,
  yTicks: pearsonTickValues, yLabels: pearsonTickValues.map((v, i) => ({v: v, t: pearsonTickLabels[i]})),
  yTitle: 'Pearson', yTitleOff: 108, xTitle: {text: 'T'},
  legend: {x: 83, y: 212, w: 198, h: 69, rows: [231, 262], line: [94, 159], textX: 164,
    items: [{label: 'Mean', color: BLUE, marker: 'rect'}, {label: 'Variance', color: ORANGE, marker: 'circle'}]}
};
makeChart('pearson', 0, 0, 'scatter', [
  {data: pts(tValues, pearsonMean), showLine: true, borderColor: BLUE, borderWidth: 3.2, pointStyle: 'rect', pointRadius: 10.3, pointBorderWidth: 3, pointBorderColor: BLUE, pointBackgroundColor: 'rgba(0,0,0,0)', clip: false},
  {data: pts(tValues, pearsonVariance), showLine: true, borderColor: ORANGE, borderWidth: 3.2, pointStyle: 'circle', pointRadius: 8.3, pointBorderWidth: 3, pointBorderColor: ORANGE, pointBackgroundColor: 'rgba(0,0,0,0)', clip: false}
], {x: {type: 'logarithmic', min: tMin, max: tMax}, y: {type: 'linear', min: 0.5, max: 1}});

// Time panel
SPECS.time = {
  xTicks: tTickValues, xMinor: logMinor(tMin, tMax), xLabels: tXLabels,
  yTicks: timeTickValues, yMinor: logMinor(timeHR[0], timeHR[timeHR.length - 1]), yLabels: timeTickValues.map((v, i) => ({v: v, e: timeTickExponents[i]})),
  yTitle: 'Time [s]', yTitleOff: 113, xTitle: {text: 'T'},
  legend: {x: 20, y: 20, w: 126, h: 69, rows: [39, 70], line: [31, 97], textX: 101,
    items: [{label: 'HR', color: BLUE, marker: 'rect'}, {label: 'EP', color: ORANGE, marker: null}]}
};
makeChart('time', 0, 1, 'scatter', [
  {data: pts(tValues, timeHR), showLine: true, borderColor: BLUE, borderWidth: 3.2, pointStyle: 'rect', pointRadius: 10.3, pointBorderWidth: 3, pointBorderColor: BLUE, pointBackgroundColor: 'rgba(0,0,0,0)', clip: false},
  {data: pts(tValues, timeEP), showLine: true, borderColor: ORANGE, borderWidth: 3.2, pointRadius: 0, clip: false}
], {x: {type: 'logarithmic', min: tMin, max: tMax}, y: {type: 'logarithmic', min: timeHR[0], max: timeHR[timeHR.length - 1]}});

// scatter panels
for (let k = 0; k < 4; k++) {
  const lim = meanLimits[k];
  SPECS['mean' + k] = {
    xTicks: meanTickValues, yTicks: meanTickValues,
    xLabels: meanTickValues.map((v, i) => ({v: v, t: meanTickLabels[i]})),
    yLabels: meanTickValues.map((v, i) => ({v: v, t: meanTickLabels[i]})),
    yTitle: k === 0 ? 'Mean, EP' : null, yTitleOff: 113,
    xTitle: {text: 'T = ' + runMantissas[k] + ' \u00B7 10', sup: runExponents[k], base: 110}
  };
  makeChart('mean' + k, k + 1, 0, 'scatter', [
    {data: [{x: lim[0], y: lim[0]}, {x: lim[1], y: lim[1]}], showLine: true, borderColor: ORANGE, borderWidth: 2.3, pointRadius: 0, clip: false},
    {data: meanData[k].map(p => ({x: p[0], y: p[1]})), pointStyle: 'circle', pointRadius: 5, pointBorderWidth: 1.5, pointBorderColor: BLUE, pointBackgroundColor: 'rgba(0,0,0,0)', clip: false}
  ], {x: {type: 'linear', min: lim[0], max: lim[1]}, y: {type: 'linear', min: lim[0], max: lim[1]}});

  const vl = varLimitsLog10[k];
  const vmin = Math.pow(10, vl[0]), vmax = Math.pow(10, vl[1]);
  SPECS['var' + k] = {
    xTicks: varTickValues, yTicks: varTickValues,
    xLabels: varTickValues.map((v, i) => ({v: v, e: varTickExponents[i]})),
    yLabels: varTickValues.map((v, i) => ({v: v, e: varTickExponents[i]})),
    yTitle: k === 0 ? 'Variance, EP' : null, yTitleOff: 120,
    xTitle: {text: 'T =' + runMantissas[k] + ' \u00B7 10', sup: runExponents[k], base: 123}
  };
  makeChart('var' + k, k + 1, 1, 'scatter', [
    {data: [{x: vmin, y: vmin}, {x: vmax, y: vmax}], showLine: true, borderColor: ORANGE, borderWidth: 2.3, pointRadius: 0, clip: false},
    {data: varDataLog10[k].map(p => ({x: Math.pow(10, p[0]), y: Math.pow(10, p[1])})), pointStyle: 'circle', pointRadius: 5, pointBorderWidth: 1.5, pointBorderColor: BLUE, pointBackgroundColor: 'rgba(0,0,0,0)', clip: false}
  ], {x: {type: 'logarithmic', min: vmin, max: vmax}, y: {type: 'logarithmic', min: vmin, max: vmax}});
}
</script>
</body>
</html>
